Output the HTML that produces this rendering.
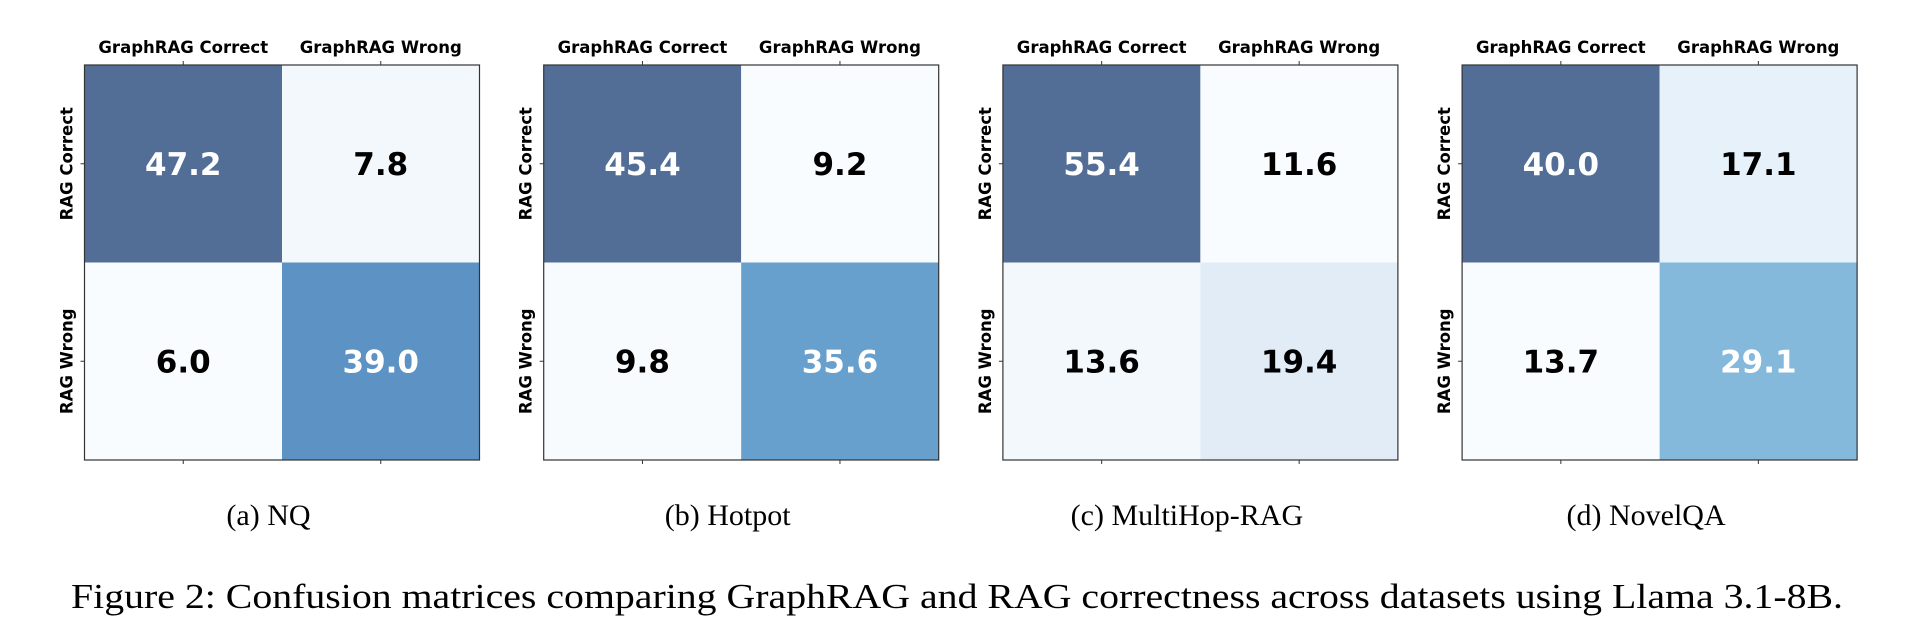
<!DOCTYPE html>
<html><head><meta charset="utf-8"><style>
html,body{margin:0;padding:0;background:#fff;}
svg{display:block;}
</style></head><body>
<svg id="fig" width="1920" height="636" viewBox="0 0 1920 636" xmlns="http://www.w3.org/2000/svg"></svg>
<script>
const panelTitles = ["(a) NQ", "(b) Hotpot", "(c) MultiHop-RAG", "(d) NovelQA"];
const panelSlugs = ["nq", "hotpot", "multihop-rag", "novelqa"];
const colLabels = ["GraphRAG Correct", "GraphRAG Wrong"];
const rowLabels = ["RAG Correct", "RAG Wrong"];
// values[panel] = [RAG Correct/GR Correct, RAG Correct/GR Wrong, RAG Wrong/GR Correct, RAG Wrong/GR Wrong]
const valuesNQ = [47.2, 7.8, 6.0, 39.0];
const valuesHotpot = [45.4, 9.2, 9.8, 35.6];
const valuesMultiHop = [55.4, 11.6, 13.6, 19.4];
const valuesNovelQA = [40.0, 17.1, 13.7, 29.1];
const allValues = [valuesNQ, valuesHotpot, valuesMultiHop, valuesNovelQA];
const figCaption = "Figure 2: Confusion matrices comparing GraphRAG and RAG correctness across datasets using Llama 3.1-8B.";

const NS = "http://www.w3.org/2000/svg";
const svg = document.getElementById('fig');
const blues = ["#f7fbff","#deebf7","#c6dbef","#9ecae1","#6baed6","#4292c6","#2171b5","#08519c","#08306b"];
function hex(h){return [parseInt(h.substr(1,2),16),parseInt(h.substr(3,2),16),parseInt(h.substr(5,2),16)];}
function bluesColor(t){
  t=Math.max(0,Math.min(1,t));
  const p=t*(blues.length-1), i=Math.min(Math.floor(p),blues.length-2), f=p-i;
  const a=hex(blues[i]), b=hex(blues[i+1]);
  const c=a.map((v,k)=>v+(b[k]-v)*f);
  const alpha=0.7;
  return "rgb("+c.map(v=>Math.round(255*(1-alpha)+v*alpha)).join(",")+")";
}
function mk(tag, attrs, parent){
  const e=document.createElementNS(NS,tag);
  for(const k in attrs) e.setAttribute(k,attrs[k]);
  (parent||svg).appendChild(e); return e;
}
const W=395, H=395, top0=65, step=459.2, left0=84.5;
allValues.forEach((vals,p)=>{
  const g=mk('g',{});
  
  
  const x0=left0+p*step;
  const cw=W/colLabels.length, ch=H/rowLabels.length;
  const vmin=Math.min(...vals), vmax=Math.max(...vals);
  vals.forEach((v,i)=>{
    const r=Math.floor(i/2), c=i%2;
    const t=(v-vmin)/(vmax-vmin);
    const rect=mk('rect',{x:x0+c*cw,y:top0+r*ch,width:cw,height:ch,fill:bluesColor(t)},g);
    
    
    const tx=mk('text',{x:x0+c*cw+cw/2,y:top0+r*ch+ch/2+11,'text-anchor':'middle','font-family':'"DejaVu Sans","Liberation Sans",sans-serif','font-weight':'bold','font-size':'31',fill:t>0.5?'#ffffff':'#000000'},g);
    tx.textContent=v.toFixed(1);
    
    
  });
  mk('rect',{x:x0,y:top0,width:W,height:H,fill:'none',stroke:'#333',"stroke-width":1.2},g);
  colLabels.forEach((lab,c)=>{
    const cx=x0+c*cw+cw/2;
    mk('line',{x1:cx,y1:top0,x2:cx,y2:top0-4,stroke:'#333','stroke-width':1},g);
    mk('line',{x1:cx,y1:top0+H,x2:cx,y2:top0+H+4,stroke:'#333','stroke-width':1},g);
    const t=mk('text',{x:cx,y:top0-12,'text-anchor':'middle','font-family':'"DejaVu Sans","Liberation Sans",sans-serif','font-weight':'bold','font-size':'16.5',fill:'#000'},g);
    t.textContent=lab;
    
    
  });
  rowLabels.forEach((lab,r)=>{
    const cy=top0+r*ch+ch/2;
    mk('line',{x1:x0,y1:cy,x2:x0-4,y2:cy,stroke:'#333','stroke-width':1},g);
    const t=mk('text',{x:0,y:0,transform:'translate('+(x0-12)+','+cy+') rotate(-90)','text-anchor':'middle','font-family':'"DejaVu Sans","Liberation Sans",sans-serif','font-weight':'bold','font-size':'16.5',fill:'#000'},g);
    t.textContent=lab;
    
    
  });
  const cap=mk('text',{x:x0+184,y:525,'text-anchor':'middle','font-family':'"Liberation Serif",serif','font-size':'30',fill:'#000'});
  cap.textContent=panelTitles[p];
  
  
});
const fc=mk('text',{x:957,y:608,'text-anchor':'middle','font-family':'"Liberation Serif",serif','font-size':'35',fill:'#000',textLength:'1772',lengthAdjust:'spacingAndGlyphs'});
fc.textContent=figCaption;


</script>
</body></html>
